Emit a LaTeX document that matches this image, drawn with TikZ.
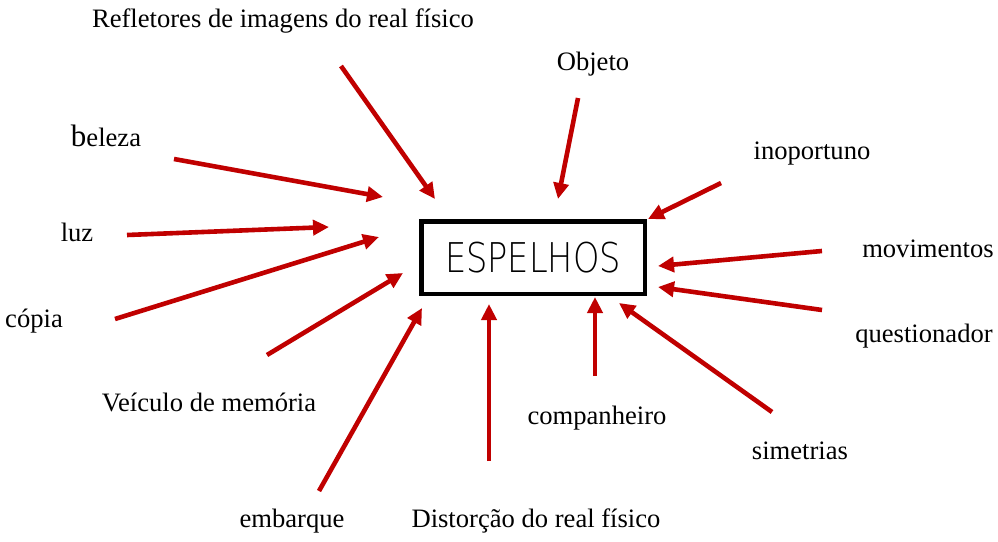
\documentclass[tikz,border=0pt]{standalone}
\usepackage{fontspec}
\setmainfont{Liberation Serif}
\newfontfamily\espfont{DejaVu Sans ExtraLight}[FakeStretch=0.82]
\usetikzlibrary{arrows.meta}
\definecolor{arrred}{RGB}{192,0,0}
\begin{document}
\begin{tikzpicture}[x=1pt,y=-1pt,
  lbl/.style={inner sep=0pt, font=\fontsize{26.6}{30}\selectfont, text height=18pt, text depth=6pt},
  arr/.style={draw=arrred, line width=4.6pt, -{Triangle[length=16pt,width=15pt]}},
  mainbox/.style={draw=black, line width=4.5pt, minimum width=223.5pt, minimum height=72.5pt, inner sep=0pt, font=\espfont\fontsize{41}{45}\selectfont}]
\useasboundingbox (0,0) rectangle (998,541);
\fill[white] (0,0) rectangle (998,541);
\node[mainbox] (esp) at (533,257.5) {ESPELHOS};
% labels
\node[lbl] (refl) at (283,21) {Refletores de imagens do real físico};
\node[lbl] (obj) at (593,64) {Objeto};
\node[lbl] (bel) at (106,140) {{\fontsize{31}{30}\selectfont b}eleza};
\node[lbl] (luz) at (77,235) {luz};
\node[lbl] (cop) at (34,321) {cópia};
\node[lbl] (vei) at (209,405) {Veículo de memória};
\node[lbl] (emb) at (292,521) {embarque};
\node[lbl] (dist) at (536,521) {Distorção do real físico};
\node[lbl] (comp) at (597,418) {companheiro};
\node[lbl] (sim) at (800,453) {simetrias};
\node[lbl] (ques) at (924,336) {questionador};
\node[lbl] (mov) at (928,251) {movimentos};
\node[lbl] (inop) at (812,153) {inoportuno};
% arrow ends
\coordinate (reflS) at (341,66);  \coordinate (reflE) at (435,199);
\coordinate (objS) at (578,98);   \coordinate (objE) at (558,199);
\coordinate (belS) at (174,159);  \coordinate (belE) at (383,197);
\coordinate (luzS) at (127,235);  \coordinate (luzE) at (329,227);
\coordinate (copS) at (115,319);  \coordinate (copE) at (379,237);
\coordinate (veiS) at (267,355);  \coordinate (veiE) at (403,273);
\coordinate (embS) at (319,491);  \coordinate (embE) at (422,308);
\coordinate (distS) at (489,461); \coordinate (distE) at (489,304);
\coordinate (compS) at (595,376); \coordinate (compE) at (595,297);
\coordinate (simS) at (772,412);  \coordinate (simE) at (619,303);
\coordinate (quesS) at (822,310); \coordinate (quesE) at (658,287);
\coordinate (movS) at (822,251);  \coordinate (movE) at (658,266);
\coordinate (inopS) at (721,183); \coordinate (inopE) at (648,219);
\foreach \n in {refl,obj,bel,luz,cop,vei,emb,dist,comp,sim,ques,mov,inop}
  \draw[arr] (\n S) -- (\n E);
\end{tikzpicture}
\end{document}
